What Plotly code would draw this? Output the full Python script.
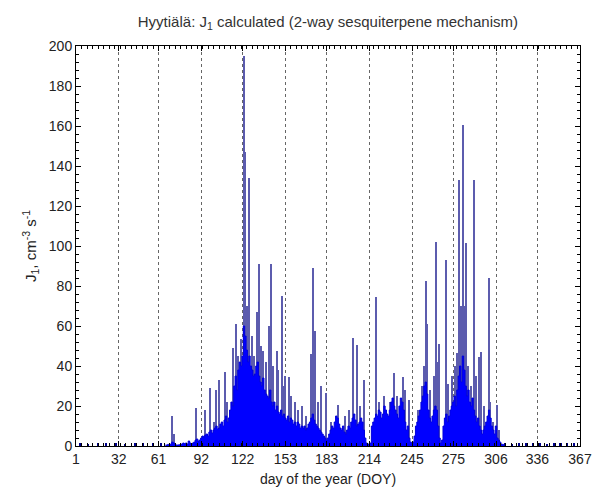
import plotly.graph_objects as go

# ---------------- data ----------------
tick_days = [1, 32, 61, 92, 122, 153, 183, 214, 245, 275, 306, 336, 367]

# small off-season bumps (day, value)
bump_days = [4, 10, 17, 23, 30, 37, 44, 50, 57, 63,
             313, 318, 323, 328, 333, 338, 343, 348, 353, 358, 363]
bump_vals = [1.5, 1.2, 1.5, 1.3, 1.5, 1.2, 1.4, 1.5, 1.3, 1.5,
             1.5, 1.2, 1.4, 1.5, 1.3, 1.5, 1.2, 1.4, 1.5, 1.3, 1.4]

# dense base level, days 66..312
base_start = 66
base_vals = [
    0.5, 0.5, 0.8, 0.6, 1.0, 2.0, 1.5, 0.8, 0.5, 0.5,
    0.6, 0.8, 1.0, 1.5, 1.2, 1.5, 1.0, 2.5, 1.5, 1.0,
    1.5, 2.0, 3.0, 3.5, 2.5, 3.0, 4.0, 5.0, 4.5, 5.5,
    6.0, 5.0, 7.0, 8.0, 6.5, 8.0, 9.0, 10.0, 8.5, 9.0,
    11.0, 12.0, 10.0, 13.0, 15.0, 12.0, 14.0, 18.0, 22.0, 20.0,
    30.0, 35.0, 28.0, 38.0, 42.0, 40.0, 45.0, 60.0, 55.0, 48.0,
    42.0, 45.0, 40.0, 38.0, 35.0, 36.0, 40.0, 42.0, 35.0, 32.0,
    30.0, 34.0, 28.0, 26.0, 25.0, 24.0, 28.0, 22.0, 20.0, 22.0,
    18.0, 20.0, 17.0, 16.0, 18.0, 15.0, 16.0, 14.0, 13.0, 15.0,
    12.0, 14.0, 13.0, 11.0, 12.0, 10.0, 12.0, 11.0, 9.0, 10.0,
    9.0, 10.0, 8.0, 9.0, 11.0, 12.0, 14.0, 16.0, 13.0, 11.0,
    10.0, 9.0, 8.0, 7.0, 6.0, 5.0, 4.0, 3.0, 4.0, 6.0,
    8.0, 10.0, 9.0, 12.0, 15.0, 14.0, 11.0, 9.0, 8.0, 10.0,
    7.0, 6.0, 8.0, 10.0, 9.0, 12.0, 14.0, 16.0, 13.0, 10.0,
    11.0, 12.0, 14.0, 12.0, 8.0, 4.0, 1.5, 1.0, 1.0, 1.5,
    10.0, 12.0, 14.0, 16.0, 15.0, 18.0, 17.0, 14.0, 16.0, 20.0,
    18.0, 16.0, 15.0, 18.0, 22.0, 24.0, 20.0, 18.0, 16.0, 14.0,
    20.0, 24.0, 22.0, 18.0, 12.0, 8.0, 10.0, 4.0, 2.0, 1.5,
    2.0, 5.0, 10.0, 12.0, 15.0, 18.0, 22.0, 25.0, 30.0, 32.0,
    26.0, 18.0, 14.0, 12.0, 15.0, 18.0, 20.0, 18.0, 10.0, 4.0,
    1.5, 3.0, 10.0, 14.0, 16.0, 12.0, 15.0, 18.0, 20.0, 22.0,
    25.0, 20.0, 28.0, 35.0, 40.0, 32.0, 45.0, 38.0, 30.0, 25.0,
    28.0, 22.0, 20.0, 24.0, 18.0, 15.0, 12.0, 14.0, 10.0, 8.0,
    6.0, 8.0, 10.0, 12.0, 15.0, 18.0, 14.0, 10.0, 8.0, 6.0,
    10.0, 4.0, 3.0, 2.0, 1.0, 0.8, 0.5,
]
base_days = list(range(base_start, base_start + len(base_vals)))

# thin spikes (day, value)
spike_days = [71, 72, 88, 95, 98, 101, 103, 105, 109, 111, 115, 117.5, 119,
              120.5, 122, 123.3, 123.8, 125, 126.9, 128.5, 130, 132.2, 133.9,
              135, 137, 139, 141, 142.6, 144, 146.7, 148, 150.6, 152, 153,
              155.4, 157, 160, 162, 165, 168, 171.4, 172.8, 174.8, 177, 178.7,
              182.5, 186, 191.5, 196, 199, 202.4, 205, 207, 210.2, 218.6, 221,
              225, 229, 231.7, 234, 238.5, 240, 242.8, 249.1, 252, 254, 255,
              255.7, 258, 261, 262.4, 263, 264.4, 269.7, 271.2, 274, 276,
              277.5, 279.4, 280.5, 282.3, 283.5, 284.2, 286, 288, 290.3,
              291.5, 293.4, 295.1, 297, 300.7, 302, 304, 307, 308]
spike_vals = [15, 6, 19, 18, 29, 12, 28, 33, 37, 22, 49, 61, 45,
              53.5, 42, 195, 147, 70, 134, 55, 45, 67, 91,
              50, 47.5, 42, 60, 91, 40, 47.7, 38, 75, 30, 35,
              34.7, 25, 22, 18, 20, 15, 46, 89, 57.5, 22, 30,
              26.7, 12, 20.5, 15, 18, 53.8, 50.5, 20, 33, 74.7, 22,
              25, 22, 36.3, 25, 34.7, 28, 23, 18, 30, 40, 82.7,
              61, 28, 35, 101.8, 42, 51, 93, 31, 35, 40,
              46.3, 133, 70, 160.5, 70, 101.3, 40, 30, 133,
              35, 44.7, 47, 20, 84.2, 22, 12, 20.5, 8]

# ---------------- figure ----------------
font = "Liberation Sans, Arial, sans-serif"
fig = go.Figure()

fig.add_trace(go.Scatter(
    x=base_days, y=base_vals, mode="lines", line_shape="hvh",
    line=dict(color="#0000dd", width=1), fill="tozeroy",
    fillcolor="#0000ff", hoverinfo="skip", showlegend=False))

fig.add_trace(go.Bar(
    x=spike_days, y=spike_vals, width=0.75,
    marker=dict(color="#5c5cae", line=dict(width=0)),
    showlegend=False))

fig.add_trace(go.Bar(
    x=bump_days, y=bump_vals, width=1.2,
    marker=dict(color="#00008b", line=dict(width=0)),
    showlegend=False))

fig.update_layout(
    width=594, height=490,
    margin=dict(l=76, r=14, t=46, b=44, autoexpand=False),
    paper_bgcolor="white", plot_bgcolor="white",
    barmode="overlay", bargap=0,
    font=dict(family=font, size=14, color="#222"),
    title=dict(text="Hyytiälä: J<sub>1</sub> calculated (2-way sesquiterpene mechanism)",
               x=0.552, xanchor="center", y=0.955, yanchor="middle",
               font=dict(family=font, size=15, color="#333")),
)

fig.update_xaxes(
    range=[1, 367], tickvals=tick_days, ticktext=[str(t) for t in tick_days],
    automargin=False,
    ticks="inside", ticklen=5, tickcolor="black",
    showline=True, linecolor="black", linewidth=1, mirror="ticks",
    showgrid=True, gridcolor="#666", griddash="dot", gridwidth=1,
    zeroline=False,
    minor=dict(ticks="inside", ticklen=3, dtick=4, tick0=1, tickcolor="black", showgrid=False),
    title=dict(text="day of the year (DOY)", standoff=8, font=dict(size=14, color="#222")),
    tickfont=dict(size=14, color="#222"),
)
fig.update_yaxes(
    range=[0, 200], dtick=20, tick0=0,
    automargin=False,
    ticks="inside", ticklen=5, tickcolor="black",
    showline=True, linecolor="black", linewidth=1, mirror="ticks",
    showgrid=False, zeroline=False,
    minor=dict(ticks="inside", ticklen=3, dtick=4, tickcolor="black", showgrid=False),
    title=dict(text="J<sub>1</sub>, cm<sup>-3</sup> s<sup>-1</sup>", standoff=8,
               font=dict(size=15, color="#222")),
    tickfont=dict(size=14, color="#222"),
)

# remove the default 8px page margin so the figure fills the 594x490 window
fig.write_html("out.html",
               config={"displayModeBar": False},
               post_script="document.body.style.margin='0';document.body.style.overflow='hidden';")
